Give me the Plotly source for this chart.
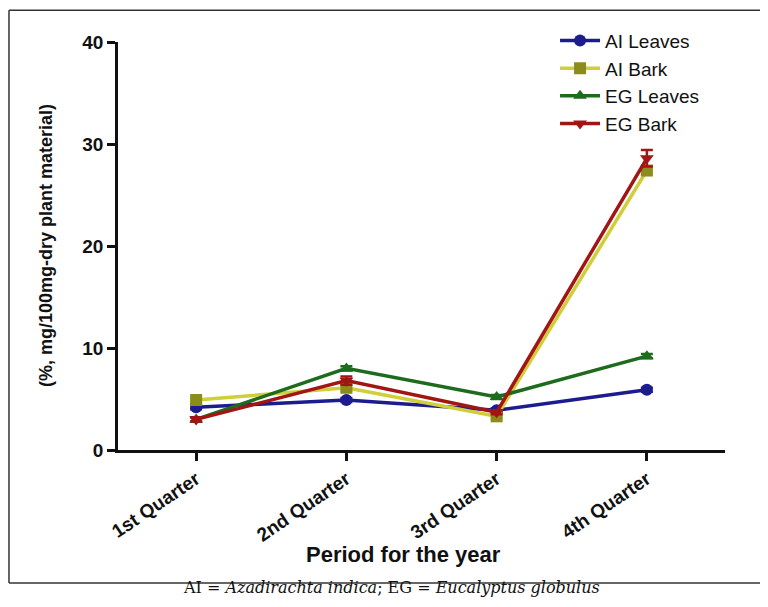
import plotly.graph_objects as go

quarters = ["1st Quarter", "2nd Quarter", "3rd Quarter", "4th Quarter"]

ai_leaves = [4.2, 4.9, 3.9, 5.9]
ai_bark = [4.9, 6.1, 3.3, 27.4]
eg_leaves = [3.0, 8.0, 5.2, 9.2]
eg_bark = [3.0, 6.8, 3.7, 28.6]

ai_leaves_err = [0.2, 0.2, 0.2, 0.2]
ai_bark_err = [0.2, 0.3, 0.2, 0.4]
eg_leaves_err = [0.2, 0.2, 0.2, 0.2]
eg_bark_err = [0.2, 0.4, 0.2, 0.8]

x_pos = [0, 1, 2, 3]

series = [
    ("AI Leaves", ai_leaves, ai_leaves_err, "#1c1c8e", "#1c1c8e", "circle"),
    ("AI Bark", ai_bark, ai_bark_err, "#cfcf3a", "#8c8c1c", "square"),
    ("EG Leaves", eg_leaves, eg_leaves_err, "#1d6b1d", "#1d6b1d", "triangle-up"),
    ("EG Bark", eg_bark, eg_bark_err, "#a31515", "#a31515", "triangle-down"),
]

fig = go.Figure()

for name, vals, errs, line_col, mark_col, sym in series:
    fig.add_trace(
        go.Scatter(
            x=x_pos,
            y=vals,
            name=name,
            mode="lines+markers",
            line=dict(color=line_col, width=3.5),
            marker=dict(color=mark_col, symbol=sym, size=12, line=dict(width=0)),
            error_y=dict(type="data", array=errs, color=line_col,
                         thickness=2.5, width=6),
        )
    )

# outer frame: top, left and bottom edges only (right edge is off the page)
frame = dict(color="#333333", width=1.5)
fx0, fx1, fy0, fy1 = -0.1796, 1.1, -0.326, 1.078
fig.add_shape(type="line", xref="paper", yref="paper",
              x0=fx0, x1=fx1, y0=fy1, y1=fy1, line=frame)
fig.add_shape(type="line", xref="paper", yref="paper",
              x0=fx0, x1=fx1, y0=fy0, y1=fy0, line=frame)
fig.add_shape(type="line", xref="paper", yref="paper",
              x0=fx0, x1=fx0, y0=fy0, y1=fy1, line=frame)

# axis titles
fig.add_annotation(
    text="<b>Period for the year</b>",
    xref="paper", yref="paper", x=0.47, y=-0.257,
    xanchor="center", yanchor="middle", showarrow=False,
    font=dict(family="Liberation Sans", size=22, color="#111111"),
)
fig.add_annotation(
    text="<b>(%, mg/100mg-dry plant material)</b>",
    xref="paper", yref="paper", x=-0.1186, y=0.5, textangle=-90,
    xanchor="center", yanchor="middle", showarrow=False,
    font=dict(family="Liberation Sans", size=18, color="#111111"),
)

fig.add_annotation(
    text="AI = <i>Azadirachta indica</i>; EG = <i>Eucalyptus globulus</i>",
    xref="paper", yref="paper", x=0.45, y=-0.336,
    xanchor="center", yanchor="middle", showarrow=False,
    font=dict(family="DejaVu Serif", size=16, color="#111111"),
)

fig.update_xaxes(
    range=[-0.52, 3.52],
    tickvals=x_pos,
    ticktext=["<b>%s</b>" % q for q in quarters],
    tickangle=-34,
    ticks="outside", ticklen=8, tickwidth=2.5, tickcolor="#111111",
    showline=True, linewidth=2.5, linecolor="#111111",
    showgrid=False, zeroline=False,
    tickfont=dict(family="Liberation Sans", size=19, color="#111111"),
)

fig.update_yaxes(
    range=[0, 40],
    tickvals=[0, 10, 20, 30, 40],
    ticktext=["<b>0</b>", "<b>10</b>", "<b>20</b>", "<b>30</b>", "<b>40</b>"],
    ticks="outside", ticklen=8, tickwidth=2.5, tickcolor="#111111",
    showline=True, linewidth=2.5, linecolor="#111111",
    showgrid=False, zeroline=False,
    tickfont=dict(family="Liberation Sans", size=19, color="#111111"),
)

fig.update_layout(
    width=752,
    height=591,
    plot_bgcolor="white",
    paper_bgcolor="white",
    margin=dict(l=110, r=35, t=34, b=149),
    legend=dict(
        x=0.72, y=1.05, xanchor="left", yanchor="top",
        font=dict(family="Liberation Sans", size=19, color="#111111"),
        bgcolor="rgba(0,0,0,0)", itemwidth=40, tracegroupgap=0,
    ),
    showlegend=True,
)

fig.write_html("out.html")
